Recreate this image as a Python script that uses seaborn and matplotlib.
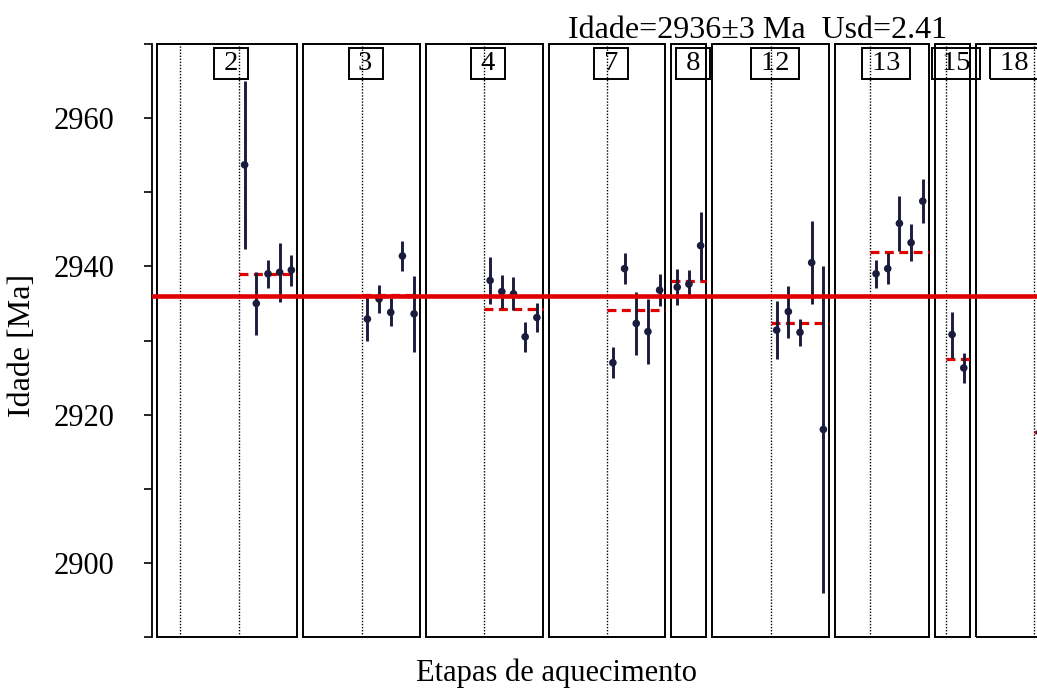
import numpy as np
import matplotlib
matplotlib.use('Agg')
import matplotlib.pyplot as plt
import seaborn as sns
import pandas as pd
from matplotlib.patches import Rectangle

# ---------------- data ----------------
grains = ['2', '3', '4', '7', '8', '12', '13', '15', '18']
n_steps = [12, 10, 10, 10, 3, 10, 8, 3, 6]
dotted_steps = [[2, 7], [5], [5], [5], [], [5], [3], [1], [5]]

ages_2 = [2953.7, 2935.0, 2939.0, 2939.2, 2939.5]
errs_2 = [11.3, 4.2, 1.9, 4.0, 2.1]
ages_3 = [2932.9, 2935.6, 2933.8, 2941.4, 2933.6]
errs_3 = [3.0, 1.9, 1.9, 2.0, 5.1]
ages_4 = [2938.1, 2936.6, 2936.3, 2930.5, 2933.1]
errs_4 = [3.2, 2.2, 2.2, 2.0, 2.0]
ages_7 = [2927.0, 2939.7, 2932.3, 2931.2, 2936.8]
errs_7 = [2.1, 2.1, 4.2, 4.4, 2.2]
ages_8 = [2937.2, 2937.6, 2942.8]
errs_8 = [2.4, 1.9, 4.6]
ages_12 = [2931.4, 2933.9, 2931.1, 2940.5, 2918.0]
errs_12 = [3.9, 3.5, 1.8, 5.6, 22.0]
ages_13 = [2939.0, 2939.7, 2945.8, 2943.2, 2948.8]
errs_13 = [1.9, 2.1, 3.7, 2.5, 3.0]
ages_15 = [2930.8, 2926.3]
errs_15 = [3.1, 2.0]
ages_18 = [2917.6]
errs_18 = [2.0]

grain_means = [2939.0, 2936.1, 2934.3, 2934.1, 2938.0, 2932.3, 2941.9, 2927.5, 2917.6]

total_age = 2936
total_err = 3
usd = 2.41

all_ages = [ages_2, ages_3, ages_4, ages_7, ages_8, ages_12, ages_13, ages_15, ages_18]
all_errs = [errs_2, errs_3, errs_4, errs_7, errs_8, errs_12, errs_13, errs_15, errs_18]

# ---------------- style ----------------
sns.set_theme(style='ticks')
plt.rcParams['font.family'] = ['Liberation Serif', 'DejaVu Serif']
plt.rcParams['text.color'] = 'black'

W, H = 1037, 689
fig = plt.figure(figsize=(W / 100, H / 100), dpi=100)
ax = fig.add_axes([152 / W, 1 - 637 / H, 1 - 152 / W, (637 - 44) / H])

ymin, ymax = 2890, 2970
unit_px = 11.68
gap = 0.51
left_off = 0.43
ax.set_xlim(0, (W - 152) / unit_px)
ax.set_ylim(ymin, ymax)

navy = '#1b1b3d'
red = '#e00000'

# panel layout
rows = []
x0 = left_off
for g, n, dots, a, e, m in zip(grains, n_steps, dotted_steps, all_ages, all_errs, grain_means):
    ax.add_patch(Rectangle((x0, ymin), n, ymax - ymin, fill=False, ec='black',
                           lw=1.4, zorder=2, clip_on=False))
    for d in dots:
        ax.vlines(x0 + d, ymin, ymax, colors='black', linestyles=(0, (1, 1.2)), lw=1.0, zorder=1)
    start = n - len(a)
    ax.hlines(m, x0 + start, x0 + n, colors=red, linestyles=(0, (2.8, 1.7)), lw=2.3, zorder=3)
    for i, (ai, ei) in enumerate(zip(a, e)):
        rows.append(dict(grain=g, x=x0 + start + i + 0.5, age=ai, err=ei))
    ax.text(x0 + n / 2 + 0.35, ymax - 0.95, f' {g} ', ha='center', va='top', fontsize=20.5,
            color='black',
            bbox=dict(boxstyle='square,pad=0.1', fc='none', ec='black', lw=1.4), zorder=6)
    x0 += n + gap

df = pd.DataFrame(rows)
ax.vlines(df['x'], df['age'] - df['err'], df['age'] + df['err'], colors=navy, lw=2.1, zorder=4)
sns.scatterplot(data=df, x='x', y='age', color=navy, s=30, edgecolor='none', ax=ax, zorder=5, legend=False)

ax.axhline(total_age, color=red, lw=3.3, zorder=7)

# axes cosmetics
for s in ['top', 'right', 'bottom']:
    ax.spines[s].set_visible(False)
ax.spines['left'].set_linewidth(1.3)
ax.spines['left'].set_color('black')
ax.set_xticks([])
ax.set_yticks([2900, 2920, 2940, 2960])
ax.set_yticks(np.arange(2890, 2971, 10), minor=True)
ax.tick_params(axis='y', which='both', direction='out', length=6, width=1.2, color='black')
ax.tick_params(axis='y', which='major', labelsize=22, pad=21, labelcolor='black')
ax.set_xlabel('')
ax.set_ylabel('')

fig.text(22 / W, 1 - 345 / H, 'Idade [Ma]', rotation=90, ha='center', va='center', fontsize=23)
fig.text(557 / W, 1 - 681 / H, 'Etapas de aquecimento', ha='center', va='baseline', fontsize=22)
fig.text(757 / W, 1 - 30 / H, f'Idade={total_age}\u00b1{total_err} Ma  Usd={usd}',
         ha='center', va='center', fontsize=23)

fig.savefig('out.png', dpi=100)
